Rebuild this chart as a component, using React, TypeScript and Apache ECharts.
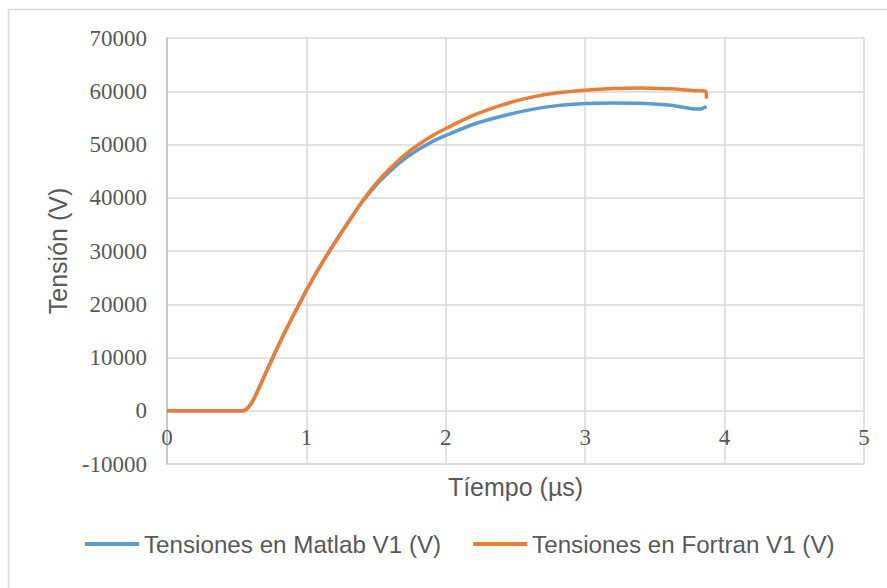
import React, { useEffect, useRef } from "react";
import * as echarts from "echarts";

const matlabTime = [0, 0.5, 0.545, 0.6, 0.65, 0.7, 0.75, 0.8, 0.85, 0.9, 0.95, 1.0, 1.1, 1.2, 1.3, 1.4, 1.5, 1.6, 1.7, 1.8, 1.9, 2.0, 2.2, 2.4, 2.6, 2.8, 3.0, 3.2, 3.4, 3.6, 3.7, 3.77, 3.82, 3.87];
const matlabVolt = [0, 0, 0, 1200, 3700, 6600, 9500, 12300, 15000, 17600, 20100, 22600, 27200, 31400, 35400, 39200, 42400, 45000, 47200, 49000, 50500, 51700, 53800, 55300, 56500, 57300, 57700, 57800, 57750, 57400, 57000, 56700, 56650, 57150];

const fortranTime = [0, 0.5, 0.545, 0.6, 0.65, 0.7, 0.75, 0.8, 0.85, 0.9, 0.95, 1.0, 1.1, 1.2, 1.3, 1.4, 1.5, 1.6, 1.7, 1.8, 1.9, 2.0, 2.2, 2.4, 2.6, 2.8, 3.0, 3.2, 3.4, 3.6, 3.7, 3.8, 3.865, 3.87];
const fortranVolt = [0, 0, 0, 1200, 3700, 6600, 9500, 12300, 15000, 17600, 20100, 22600, 27200, 31400, 35400, 39300, 42700, 45500, 47900, 49900, 51600, 53000, 55500, 57400, 58800, 59700, 60200, 60500, 60600, 60450, 60300, 60100, 60000, 58600];

const seriesNames = ["Tensiones en Matlab V1 (V)", "Tensiones en Fortran V1 (V)"];
const xTitle = "Tíempo (µs)";
const yTitle = "Tensión (V)";

const pairs = (xs: number[], ys: number[]) => xs.map((x, i) => [x, ys[i]]);

export default function App() {
  const ref = useRef<HTMLDivElement>(null);
  useEffect(() => {
    document.body.style.margin = "0";
    const chart = echarts.init(ref.current!, null, { renderer: "svg" });
    const gridColor = "#d9d9d9";
    const textColor = "#595959";
    chart.setOption({
      animation: false,
      backgroundColor: "#ffffff",
      graphic: [
        {
          type: "rect",
          left: 6,
          top: 7,
          shape: { width: 900, height: 600 },
          style: { fill: "none", stroke: gridColor, lineWidth: 1.5 },
          silent: true,
        },
      ],
      grid: { left: 167, right: 23, top: 38, bottom: 124, containLabel: false },
      legend: {
        left: 80,
        top: 527,
        itemWidth: 54,
        itemHeight: 4,
        itemGap: 32,
        icon: "rect",
        textStyle: { fontFamily: "Liberation Sans", fontSize: 24.2, color: textColor },
        data: seriesNames,
      },
      xAxis: {
        type: "value",
        min: 0,
        max: 5,
        interval: 1,
        name: xTitle,
        nameLocation: "middle",
        nameGap: 10,
        nameTextStyle: { fontFamily: "Liberation Sans", fontSize: 25, color: textColor },
        axisLine: { show: true, onZero: false, lineStyle: { color: gridColor, width: 1.5 } },
        axisTick: { show: false },
        axisLabel: { margin: -38, fontFamily: "Liberation Serif", fontSize: 23, color: textColor },
        splitLine: { show: true, lineStyle: { color: gridColor, width: 1.5 } },
      },
      yAxis: {
        type: "value",
        min: -10000,
        max: 70000,
        interval: 10000,
        name: yTitle,
        nameLocation: "middle",
        nameGap: 92,
        nameTextStyle: { fontFamily: "Liberation Sans", fontSize: 25, color: textColor },
        axisLine: { show: true, onZero: false, lineStyle: { color: "#bfbfbf", width: 1.5 } },
        axisTick: { show: false },
        axisLabel: {
          margin: 20,
          fontFamily: "Liberation Serif",
          fontSize: 23,
          color: textColor,
          formatter: (v: number) => String(v),
        },
        splitLine: { show: true, lineStyle: { color: gridColor, width: 1.5 } },
      },
      series: [
        {
          name: seriesNames[0],
          type: "line",
          data: pairs(matlabTime, matlabVolt),
          showSymbol: false,
          smooth: 0.3,
          lineStyle: { color: "#5B9BD5", width: 3.5 },
          itemStyle: { color: "#5B9BD5" },
        },
        {
          name: seriesNames[1],
          type: "line",
          data: pairs(fortranTime, fortranVolt),
          showSymbol: false,
          smooth: 0.3,
          lineStyle: { color: "#ED7D31", width: 3.5 },
          itemStyle: { color: "#ED7D31" },
        },
      ],
    });
    return () => chart.dispose();
  }, []);
  return <div ref={ref} style={{ width: 887, height: 588 }} />;
}
